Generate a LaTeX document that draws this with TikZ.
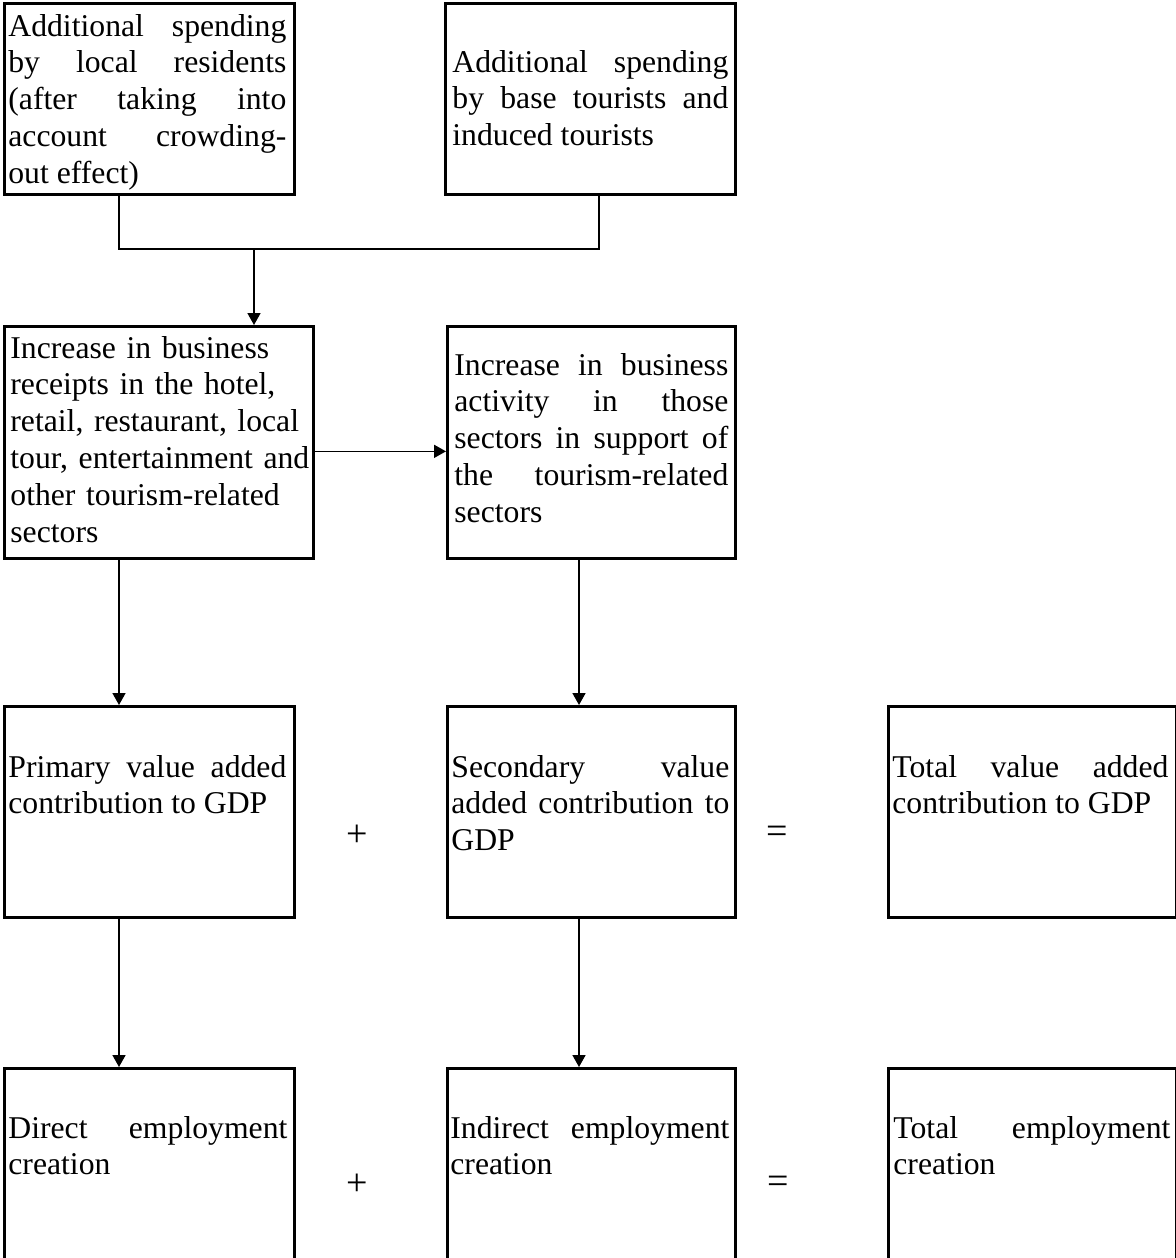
\documentclass[tikz,border=0pt]{standalone}
\usepackage{fontspec}
\setmainfont{Liberation Serif}
\usetikzlibrary{arrows.meta,positioning}
\setlength{\parindent}{0pt}
\tolerance=10000
\hbadness=10000

\begin{document}
\begin{tikzpicture}[
x=0.5pt,y=-0.5pt,
box/.style={draw,line width=1.35pt,anchor=north west,inner sep=0pt},
txt/.style={anchor=base west,inner sep=0pt,align=justify,font=\fontsize{15.85}{18.4}\selectfont},
opsign/.style={inner sep=0pt,font=\fontsize{19}{22}\selectfont},
arrow/.style={-{Triangle[length=6pt,width=6.5pt]},line width=0.85pt},
link/.style={line width=1.35pt}
]
\useasboundingbox (0,0) rectangle (1176,1258);

% spending
\node[box,minimum width=145pt,minimum height=95.5pt] (local) at (3,2) {};
\node[txt,text width=139pt,xshift=2.5pt,yshift=-17pt] (localtext) at (local.north west)
  {Additional spending\linebreak by local residents\linebreak (after taking into\linebreak account crowding-\linebreak out effect)};
\node[box,minimum width=145pt,minimum height=95.5pt] (tourist) at (444,2) {};
\node[txt,text width=138pt,xshift=4pt,yshift=-35pt] (touristtext) at (tourist.north west)
  {Additional spending\linebreak by base tourists and\linebreak induced tourists};

% business activity
\node[box,minimum width=154.5pt,minimum height=116pt] (receipts) at (3,325) {};
\node[txt,align=left,text width=152pt,xshift=3.5pt,yshift=-16.5pt] (receiptstext) at (receipts.north west)
  {Increase in business\\receipts in the hotel,\\retail, restaurant, local\\tour, entertainment and\\other tourism-related\\sectors};
\node[box,minimum width=144pt,minimum height=116pt] (activity) at (446,325) {};
\node[txt,text width=137pt,xshift=4pt,yshift=-25pt] (activitytext) at (activity.north west)
  {Increase in business\linebreak activity in those\linebreak sectors in support of\linebreak the tourism-related\linebreak sectors};

% value added
\node[box,minimum width=145pt,minimum height=105.5pt] (primary) at (3,705) {};
\node[txt,text width=139pt,xshift=2.5pt,yshift=-36pt] (primarytext) at (primary.north west)
  {Primary value added\linebreak contribution to GDP};
\node[box,minimum width=144pt,minimum height=105.5pt] (secondary) at (446,705) {};
\node[txt,text width=139pt,xshift=2.5pt,yshift=-36pt] (secondarytext) at (secondary.north west)
  {Secondary value\linebreak added contribution to\linebreak GDP};
\node[box,minimum width=144pt,minimum height=105.5pt] (totalval) at (887,705) {};
\node[txt,text width=138pt,xshift=2.5pt,yshift=-36pt] (totalvaltext) at (totalval.north west)
  {Total value added\linebreak contribution to GDP};
\node[opsign] (plusval) at (357,836) {+};
\node[opsign] (eqval) at (777,835) {=};

% employment
\node[box,minimum width=145pt,minimum height=115pt] (direct) at (3,1067) {};
\node[txt,text width=139.5pt,xshift=2.5pt,yshift=-35.5pt] (directtext) at (direct.north west)
  {Direct employment\linebreak creation};
\node[box,minimum width=144pt,minimum height=115pt] (indirect) at (446,1067) {};
\node[txt,text width=139.5pt,xshift=2pt,yshift=-35.5pt] (indirecttext) at (indirect.north west)
  {Indirect employment\linebreak creation};
\node[box,minimum width=144pt,minimum height=115pt] (totaljob) at (887,1067) {};
\node[txt,text width=138.5pt,xshift=3pt,yshift=-35.5pt] (totaljobtext) at (totaljob.north west)
  {Total employment\linebreak creation};
\node[opsign] (plusjob) at (357,1185) {+};
\node[opsign] (eqjob) at (778,1185) {=};

% connectors
\coordinate (ljoin) at (119,249);
\coordinate (rjoin) at (599,249);
\coordinate (mjoin) at (254,249);
\coordinate (rcol) at (579,0);
\draw[link] (local.south -| ljoin) -- (ljoin) -- (rjoin) -- (tourist.south -| rjoin);
\draw[arrow] (mjoin) -- (mjoin |- receipts.north);
\draw[arrow] ([yshift=-4.5pt]receipts.east) -- ([yshift=-4.5pt]activity.west);
\draw[arrow] (receipts.south -| ljoin) -- (primary.north -| ljoin);
\draw[arrow] (activity.south -| rcol) -- (secondary.north -| rcol);
\draw[arrow] (primary.south -| ljoin) -- (direct.north -| ljoin);
\draw[arrow] (secondary.south -| rcol) -- (indirect.north -| rcol);
\end{tikzpicture}
\end{document}
